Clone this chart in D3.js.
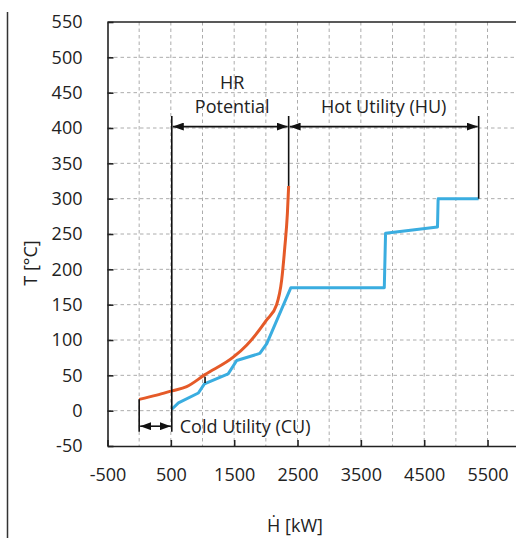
<!DOCTYPE html>
<html>
<head>
  <meta charset='utf-8' />
  <title>Composite curves</title>
  <style>
    html, body { margin: 0; padding: 0; background: #fff; }
    svg { display: block; font-family: 'Open Sans', sans-serif; }
    .grid line { stroke: #acacac; stroke-width: 1; stroke-dasharray: 3.5,3; }
    .axis path, .axis line { stroke: #222; stroke-width: 1.6; }
    .axis text { font-family: 'Open Sans', sans-serif; font-size: 18px; fill: #222; }
    .note { font-size: 18px; fill: #222; }
    .guide { stroke: #111; stroke-width: 1.6; fill: none; }
  </style>
</head>
<body>
<svg id='chart' width='516' height='538'></svg>
<script src="https://d3js.org/d3.v7.min.js"></script>
<script>
  // hot composite curve (orange)
  const hotH = [0, 277, 515, 750, 1040, 1490, 1700, 2010, 2170, 2250, 2300, 2340, 2360]
  const hotT = [16, 22, 28, 34, 51, 76, 93, 128, 150, 185, 232, 279, 318]

  // cold composite curve (blue)
  const coldH = [515, 620, 935, 1030, 1405, 1540, 1905, 2015, 2395, 3870, 3890, 4710, 4720, 5360]
  const coldT = [2, 11, 25, 38, 52, 71, 81, 95, 174, 174, 251, 260, 300, 300]

  const xTicks = [-500, 500, 1500, 2500, 3500, 4500, 5500]
  const yTicks = [-50, 0, 50, 100, 150, 200, 250, 300, 350, 400, 450, 500, 550]

  // vertical guide lines [H, T from, T to]
  const guideH = [0, 515, 2360, 5360, 1040]
  const guideFrom = [16, 417, 417, 417, 39]
  const guideTo = [-30, -30, 318, 300, 48]

  // double arrows [H start, H end, T]
  const arrowFrom = [0, 515, 2360]
  const arrowTo = [515, 2360, 5360]
  const arrowT = [-22, 402, 402]

  const svg = d3.select('#chart')

  const x = d3.scaleLinear().domain([-500, 6000]).range([107.5, 519.2])
  const y = d3.scaleLinear().domain([-50, 550]).range([446, 22])

  // page border line on the left
  svg.append('line')
    .attr('x1', 7.5).attr('x2', 7.5).attr('y1', 12).attr('y2', 538)
    .attr('stroke', '#333').attr('stroke-width', 1.5)

  // grid
  const grid = svg.append('g').attr('class', 'grid')
  grid.selectAll('.gx')
    .data(d3.range(0, 6001, 500))
    .enter().append('line')
    .attr('x1', d => x(d)).attr('x2', d => x(d))
    .attr('y1', y(550)).attr('y2', y(-50))
  grid.selectAll('.gy')
    .data(d3.range(0, 501, 50))
    .enter().append('line')
    .attr('x1', x(-500)).attr('x2', x(6000))
    .attr('y1', d => y(d)).attr('y2', d => y(d))

  // axes with inward ticks
  const fmt = d => String(d)
  svg.append('g')
    .attr('class', 'axis')
    .attr('transform', 'translate(0,' + y(-50) + ')')
    .call(d3.axisBottom(x).tickValues(xTicks).tickFormat(fmt)
      .tickSizeInner(-6).tickSizeOuter(0).tickPadding(22))
  svg.append('g')
    .attr('class', 'axis')
    .attr('transform', 'translate(' + x(-500) + ',0)')
    .call(d3.axisLeft(y).tickValues(yTicks).tickFormat(fmt)
      .tickSizeInner(-6).tickSizeOuter(0).tickPadding(25))
  // top spine
  svg.append('line')
    .attr('x1', x(-500)).attr('x2', x(6000))
    .attr('y1', y(550)).attr('y2', y(550))
    .attr('stroke', '#222').attr('stroke-width', 1.6)

  // curves
  const hotLine = d3.line()
    .x(d => x(d[0])).y(d => y(d[1]))
    .curve(d3.curveMonotoneX)
  const coldLine = d3.line()
    .x(d => x(d[0])).y(d => y(d[1]))

  svg.append('path')
    .datum(coldH.map((h, i) => [h, coldT[i]]))
    .attr('d', coldLine)
    .attr('fill', 'none').attr('stroke', '#3aade0').attr('stroke-width', 3)
    .attr('stroke-linejoin', 'round')

  svg.append('path')
    .datum(hotH.map((h, i) => [h, hotT[i]]))
    .attr('d', hotLine)
    .attr('fill', 'none').attr('stroke', '#e55a28').attr('stroke-width', 3)

  // arrow heads
  const defs = svg.append('defs')
  defs.append('marker')
    .attr('id', 'head')
    .attr('markerUnits', 'userSpaceOnUse')
    .attr('viewBox', '0 0 11 8')
    .attr('refX', 11).attr('refY', 4)
    .attr('markerWidth', 11).attr('markerHeight', 8)
    .attr('orient', 'auto-start-reverse')
    .append('path').attr('d', 'M0,0L11,4L0,8Z').attr('fill', '#111')

  // guide lines
  svg.selectAll('.vguide')
    .data(guideH)
    .enter().append('line')
    .attr('class', 'guide')
    .attr('x1', d => x(d)).attr('x2', d => x(d))
    .attr('y1', (d, i) => y(guideFrom[i])).attr('y2', (d, i) => y(guideTo[i]))

  svg.selectAll('.arrow')
    .data(arrowFrom)
    .enter().append('line')
    .attr('class', 'guide')
    .attr('x1', d => x(d) + 1).attr('x2', (d, i) => x(arrowTo[i]) - 1)
    .attr('y1', (d, i) => y(arrowT[i])).attr('y2', (d, i) => y(arrowT[i]))
    .attr('marker-start', 'url(#head)')
    .attr('marker-end', 'url(#head)')

  // labels
  const hrMid = x((arrowFrom[1] + arrowTo[1]) / 2) + 2
  svg.append('text').attr('class', 'note')
    .attr('x', hrMid).attr('y', 89).attr('text-anchor', 'middle').text('HR')
  svg.append('text').attr('class', 'note')
    .attr('x', hrMid).attr('y', 113).attr('text-anchor', 'middle').text('Potential')
  svg.append('text').attr('class', 'note')
    .attr('x', x((arrowFrom[2] + arrowTo[2]) / 2)).attr('y', 113)
    .attr('text-anchor', 'middle').text('Hot Utility (HU)')
  svg.append('text').attr('class', 'note')
    .attr('x', x(arrowTo[0]) + 8).attr('y', 433).text('Cold Utility (CU)')

  // axis titles
  svg.append('text').attr('class', 'note')
    .attr('transform', 'translate(37,263) rotate(-90)')
    .attr('text-anchor', 'middle').text('T [°C]')
  svg.append('text').attr('class', 'note')
    .attr('x', 295).attr('y', 532).attr('text-anchor', 'middle').text('Ḣ [kW]')
</script>
</body>
</html>
